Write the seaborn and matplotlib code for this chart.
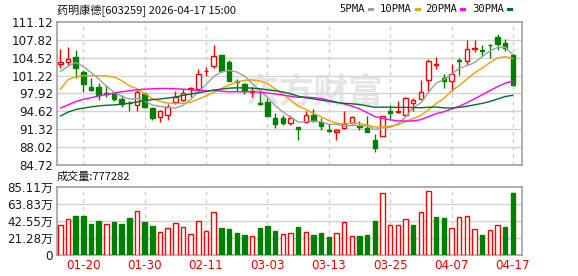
import matplotlib
matplotlib.use("Agg")
import matplotlib.pyplot as plt
import seaborn as sns
import numpy as np
import pandas as pd

# ---------------- data ----------------
dates = ["01-15", "01-16", "01-19", "01-20", "01-21", "01-22", "01-23", "01-26", "01-27", "01-28",
         "01-29", "01-30", "02-02", "02-03", "02-04", "02-05", "02-06", "02-09", "02-10", "02-11",
         "02-12", "02-13", "02-24", "02-25", "02-26", "02-27", "03-02", "03-03", "03-04", "03-05",
         "03-06", "03-09", "03-10", "03-11", "03-12", "03-13", "03-16", "03-17", "03-18", "03-19",
         "03-20", "03-23", "03-24", "03-25", "03-26", "03-27", "03-30", "03-31", "04-01", "04-02",
         "04-03", "04-07", "04-08", "04-09", "04-10", "04-13", "04-14", "04-15", "04-16", "04-17"]

open_ = [103.30, 103.79, 104.58, 101.95, 99.08, 99.08, 97.92, 97.86, 96.88, 96.21,
         95.72, 97.80, 95.23, 93.52, 94.00, 96.33, 96.70, 98.70, 98.77, 102.01,
         103.05, 104.95, 103.79, 100.18, 99.63, 98.20, 96.09, 96.33, 93.39, 93.39,
         92.42, 91.68, 92.66, 94.00, 92.54, 91.13, 90.71, 91.44, 92.48, 91.87,
         91.56, 89.36, 90.03, 94.74, 94.56, 94.00, 96.09, 96.94, 100.30, 103.24,
         100.73, 100.24, 104.03, 103.91, 106.05, 105.86, 106.90, 108.37, 107.15, 105.01]
high = [106.05, 106.41, 105.86, 102.20, 100.85, 99.75, 99.38, 98.16, 97.67, 96.45,
        98.59, 98.16, 95.35, 94.86, 95.96, 98.41, 98.77, 99.05, 102.44, 102.87,
        106.84, 105.00, 104.03, 100.61, 99.75, 99.02, 98.16, 97.06, 94.31, 94.00,
        94.00, 91.74, 94.74, 95.10, 93.39, 92.29, 91.32, 94.74, 93.64, 92.78,
        93.64, 90.46, 93.82, 95.72, 96.45, 97.18, 97.06, 100.36, 104.21, 104.70,
        101.46, 103.30, 104.40, 107.82, 107.82, 106.84, 107.09, 108.98, 107.94, 105.25]
low = [102.69, 103.17, 100.73, 98.16, 98.41, 96.76, 97.20, 96.45, 95.35, 94.74,
       94.74, 95.23, 92.90, 92.54, 92.90, 95.96, 96.45, 97.30, 98.29, 101.04,
       102.69, 101.95, 100.12, 98.41, 97.80, 97.25, 95.72, 93.70, 91.56, 92.05,
       92.05, 89.24, 92.42, 92.66, 91.07, 90.71, 89.24, 91.32, 92.17, 91.19,
       90.77, 87.04, 90.03, 93.09, 94.31, 93.64, 94.74, 96.82, 98.41, 102.44,
       98.90, 98.41, 101.34, 103.17, 105.50, 104.89, 104.40, 106.00, 105.74, 99.26]
close = [103.66, 104.34, 102.69, 99.63, 98.59, 97.67, 97.80, 96.82, 95.96, 96.09,
         98.16, 95.35, 93.27, 94.62, 95.47, 97.18, 97.92, 98.90, 101.46, 102.14,
         104.89, 102.07, 100.24, 100.06, 98.29, 98.36, 95.96, 93.82, 92.17, 92.48,
         93.39, 91.26, 94.00, 92.78, 91.93, 91.01, 91.19, 92.29, 93.52, 91.68,
         90.83, 87.77, 93.76, 94.25, 94.68, 97.06, 96.64, 98.16, 103.91, 103.36,
         100.24, 101.46, 103.85, 106.17, 106.35, 105.74, 106.78, 107.03, 106.35, 99.51]

ma5 = [101.98, 102.90, 103.63, 102.90, 101.78, 100.58, 99.28, 98.10, 97.37, 96.87,
       96.97, 96.48, 95.77, 95.50, 95.37, 95.18, 95.69, 96.82, 98.19, 99.52,
       101.06, 101.89, 102.16, 101.88, 101.11, 99.74, 98.52, 97.23, 95.66, 94.49,
       93.56, 92.62, 92.66, 92.78, 92.67, 92.20, 92.18, 91.84, 91.99, 91.94,
       91.90, 91.22, 91.51, 91.66, 92.26, 93.50, 95.28, 96.16, 98.09, 99.83,
       100.46, 101.43, 102.56, 103.02, 103.61, 104.71, 105.78, 106.41, 106.45, 105.08]
ma10 = [98.64, 100.46, 101.01, 101.19, 101.19, 101.19, 101.13, 100.95, 100.28, 99.33,
        98.78, 97.88, 96.93, 96.43, 96.12, 96.07, 96.08, 96.29, 96.84, 97.45,
        98.12, 98.79, 99.49, 100.03, 100.32, 100.40, 100.21, 99.70, 98.77, 97.80,
        96.65, 95.57, 94.95, 94.22, 93.58, 92.88, 92.40, 92.25, 92.39, 92.31,
        92.05, 91.70, 91.68, 91.82, 92.10, 92.70, 93.25, 93.84, 94.87, 96.04,
        96.98, 98.35, 99.36, 100.55, 101.72, 102.59, 103.60, 104.49, 104.73, 104.35]
ma20 = [95.18, 95.78, 96.39, 96.82, 97.12, 97.42, 97.73, 97.97, 98.22, 98.40,
        98.58, 98.70, 98.76, 98.82, 98.82, 98.76, 98.70, 98.58, 98.46, 98.39,
        98.45, 98.33, 98.21, 98.23, 98.22, 98.24, 98.14, 97.99, 97.81, 97.62,
        97.39, 97.18, 97.22, 97.13, 96.95, 96.64, 96.30, 95.97, 95.58, 95.05,
        94.35, 93.64, 93.31, 93.02, 92.84, 92.79, 92.83, 93.04, 93.63, 94.17,
        94.52, 95.03, 95.52, 96.19, 96.91, 97.65, 98.43, 99.16, 99.80, 100.20]
ma30 = [93.72, 94.45, 94.93, 95.18, 95.42, 95.60, 95.72, 95.78, 95.91, 96.09,
        96.33, 96.57, 96.76, 96.88, 97.06, 97.24, 97.55, 97.79, 98.03, 98.28,
        98.52, 98.70, 98.88, 98.94, 98.94, 98.88, 98.76, 98.58, 98.40, 98.19,
        97.85, 97.41, 97.12, 96.90, 96.67, 96.45, 96.23, 96.08, 96.00, 95.85,
        95.61, 95.35, 95.37, 95.36, 95.33, 95.33, 95.29, 95.26, 95.34, 95.38,
        95.23, 95.21, 95.33, 95.53, 95.80, 96.06, 96.42, 96.86, 97.33, 97.57]

volume = [369000, 444000, 486000, 486000, 385000, 423000, 381000, 411000, 385000, 461000,
          545000, 411000, 360000, 281000, 331000, 394000, 348000, 256000, 419000, 293000,
          532000, 335000, 323000, 272000, 247000, 230000, 335000, 360000, 297000, 256000,
          268000, 348000, 281000, 247000, 272000, 222000, 268000, 406000, 230000, 235000,
          247000, 423000, 771000, 369000, 369000, 444000, 373000, 532000, 796000, 473000,
          461000, 331000, 469000, 482000, 318000, 247000, 306000, 369000, 348000, 777282]
vol_up = [1, 1, 0, 0, 0, 0, 1, 0, 0, 0, 1, 0, 0, 1, 1, 1, 1, 1, 1, 1,
          1, 0, 0, 0, 0, 1, 0, 0, 0, 1, 1, 0, 1, 0, 0, 0, 1, 1, 1, 0,
          0, 0, 1, 1, 1, 1, 0, 1, 1, 0, 0, 1, 1, 1, 1, 0, 1, 1, 0, 0]

price_ticks = [84.72, 88.02, 91.32, 94.62, 97.92, 101.22, 104.52, 107.82, 111.12]
vol_ticks = [0, 212775, 425550, 638325, 851100]
vol_tick_labels = ["0", "21.28万", "42.55万", "63.83万", "85.11万"]
date_tick_labels = ["01-20", "01-30", "02-11", "03-03", "03-13", "03-25", "04-07", "04-17"]
title = "药明康德[603259] 2026-04-17 15:00"
vol_title = "成交量:777282"
legend_labels = ["5PMA", "10PMA", "20PMA", "30PMA"]

# ---------------- style ----------------
sns.set_theme(style="white")
plt.rcParams['font.family'] = ['DejaVu Sans', 'Noto Sans CJK SC']
RED = "#ff0000"
GREEN = "#008000"
MA_COLORS = ["#a0a0a0", "#f0a000", "#ff00ff", "#006f2e"]
FRAME = "#9a9a9a"
GRID = "#d2d2d2"

W, H = 578, 276
fig = plt.figure(figsize=(W / 100, H / 100), dpi=100)
fig.patch.set_facecolor("white")

def fx(x):
    return x / W

def fy(y):
    return 1 - y / H

x0, x1 = 56.7, 522.0
ax = fig.add_axes([fx(x0), fy(164.7), fx(x1) - fx(x0), fy(22) - fy(164.7)])
axv = fig.add_axes([fx(x0), fy(254.7), fx(x1) - fx(x0), fy(187) - fy(254.7)])

n = len(close)
idx = np.arange(n)
tick_pos = [dates.index(d) for d in date_tick_labels]

df = pd.DataFrame({"i": idx, "open": open_, "high": high, "low": low, "close": close,
                   "ma5": ma5, "ma10": ma10, "ma20": ma20, "ma30": ma30,
                   "volume": volume, "vol_up": vol_up})

# watermark
ax.text(0.555, 0.51, "东方财富", transform=ax.transAxes, ha="center", va="center",
        fontsize=25, color="#e6e6e6", fontweight="bold",
        family=["Noto Sans CJK SC"], zorder=0)

# grids
for t in price_ticks[1:-1]:
    ax.axhline(t, color=GRID, lw=1.0, zorder=1)
for p in tick_pos:
    ax.axvline(p, color="#cccccc", lw=0.9, ls=(0, (3, 3)), zorder=1)
    axv.axvline(p, color="#cccccc", lw=0.9, ls=(0, (3, 3)), zorder=1)
for t in vol_ticks[1:-1]:
    axv.axhline(t, color=GRID, lw=1.0, zorder=1)

# candles
up = df["close"] >= df["open"]
cols = np.where(up, RED, GREEN)
ax.vlines(df["i"], df["low"], df["high"], colors=cols, lw=1.0, zorder=3)
body_bottom = np.minimum(df["open"], df["close"])
body_h = np.maximum(np.abs(df["close"] - df["open"]), 0.03)
faces = np.where(up, "white", GREEN)
ax.bar(df["i"], body_h, bottom=body_bottom, width=0.58, color=faces,
       edgecolor=cols, linewidth=1.0, zorder=4)

# moving averages
for col, c in zip(["ma5", "ma10", "ma20", "ma30"], MA_COLORS):
    sns.lineplot(data=df, x="i", y=col, ax=ax, color=c, lw=1.0, legend=False, zorder=5)

ax.set_xlim(-0.47, n + 0.19)
ax.set_ylim(price_ticks[0], price_ticks[-1])
ax.set_yticks(price_ticks)
ax.set_yticklabels([f"{t:.2f}" for t in price_ticks])
ax.set_xticks([])
ax.set_xlabel("")
ax.set_ylabel("")

# volume
vcols = np.where(df["vol_up"] == 1, RED, GREEN)
vfaces = np.where(df["vol_up"] == 1, "white", GREEN)
axv.bar(df["i"], df["volume"], width=0.58, color=vfaces, edgecolor=vcols,
        linewidth=1.0, zorder=3)
axv.set_xlim(-0.47, n + 0.19)
axv.set_ylim(0, vol_ticks[-1])
axv.set_yticks(vol_ticks)
axv.set_yticklabels(vol_tick_labels)
axv.set_xticks(tick_pos)
axv.set_xticklabels(date_tick_labels, color=RED, fontsize=8.3)
axv.set_xlabel("")
axv.set_ylabel("")

for a in (ax, axv):
    for s in a.spines.values():
        s.set_color(FRAME)
        s.set_linewidth(1.1)
    a.tick_params(axis="both", length=0, pad=2.5, labelsize=8.6, labelcolor="#1a1a1a")
    a.grid(False)
axv.tick_params(axis="x", labelcolor=RED, pad=3)

# titles
fig.text(fx(57), fy(11), title, ha="left", va="center", fontsize=8.0,
         color="#111111", family=["Noto Sans CJK SC"])
fig.text(fx(57), fy(177), vol_title, ha="left", va="center", fontsize=8.0,
         color="#111111", family=["Noto Sans CJK SC"])

# legend
leg_x = [339, 380, 425, 472]
for lx, lab, c in zip(leg_x, legend_labels, MA_COLORS):
    t = fig.text(fx(lx), fy(9), lab, ha="left", va="center", fontsize=7.6,
                 color="#111111", family=["DejaVu Sans Mono"])
fig.canvas.draw()
r = fig.canvas.get_renderer()
for txt, c in zip(fig.texts[-4:], MA_COLORS):
    bb = txt.get_window_extent(r)
    fig.patches.append(matplotlib.patches.Rectangle(
        (fx(bb.x1 + 3), fy(11)), fx(6), 3.5 / H, transform=fig.transFigure,
        facecolor=c, edgecolor="none"))

fig.savefig("out.png", dpi=100, facecolor="white")
